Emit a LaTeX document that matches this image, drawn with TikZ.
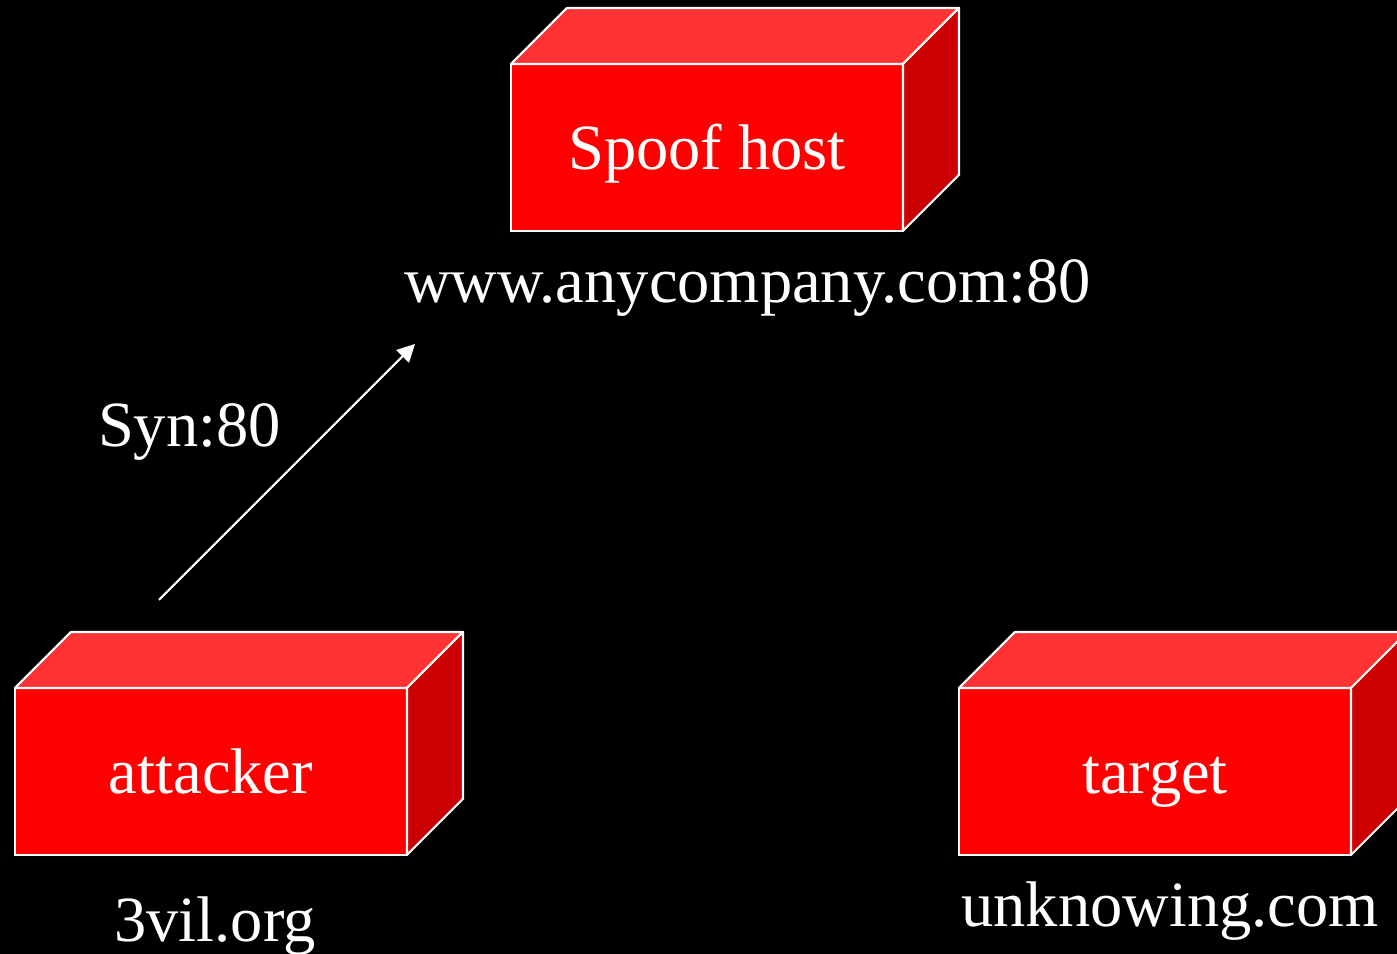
\documentclass[tikz,border=0pt]{standalone}
\usepackage{fontspec}
\setmainfont{Liberation Serif}
\usepackage{xcolor}
\usetikzlibrary{arrows.meta,positioning}
\definecolor{face}{HTML}{FF0000}
\definecolor{lid}{HTML}{FF3333}
\definecolor{flank}{HTML}{CC0000}

\begin{document}
\begin{tikzpicture}[
  font=\fontsize{18.35}{21}\selectfont,
  >={Triangle[length=5pt, width=5pt]},
  hostbox/.style={draw=white, line width=0.6pt, fill=face, text=white,
    minimum width=3.92cm, minimum height=1.67cm, inner sep=0pt, outer sep=0pt,
    text height=12.4pt, text depth=0pt},
  lidface/.style={draw=white, line width=0.6pt, fill=lid, line join=round},
  flankface/.style={draw=white, line width=0.6pt, fill=flank, line join=round},
  lab/.style={text=white, anchor=base, inner sep=0pt},
  flow/.style={->, draw=white, line width=0.6pt},
]
% backdrop fixes the page size
\fill[black] (0,0) rectangle (13.97,9.54);
\useasboundingbox (0,0) rectangle (13.97,9.54);

% hosts: front faces
\node[hostbox] (spoof)    at (7.07, 8.065) {Spoof host};
\node[hostbox] (attacker) at (2.11, 1.825) {attacker};
\node[hostbox] (target)   at (11.55, 1.825) {target};

% top and right faces of each block
\foreach \n in {spoof, attacker, target} {
  \draw[lidface] (\n.north west) -- ++(0.56,0.56) -- ++(3.92,0) -- (\n.north east) -- cycle;
  \draw[flankface] (\n.north east) -- ++(0.56,0.56) -- ++(0,-1.67) -- (\n.south east) -- cycle;
}

% addresses
\node[lab] (spoofaddr)    at (7.475, 6.51) {www.anycompany.com:80};
\node[lab] (attackeraddr) at (2.15, 0.125) {3vil.org};
\node[lab] (targetaddr)   at (11.70, 0.275) {unknowing.com};

% the spoofed syn
\coordinate (synstart) at (1.59, 3.54);
\coordinate (syntip)   at (4.15, 6.10);
\draw[flow] (synstart) -- (syntip);
\node[lab] (synlabel) at (1.895, 5.07) {Syn:80};
\end{tikzpicture}
\end{document}
